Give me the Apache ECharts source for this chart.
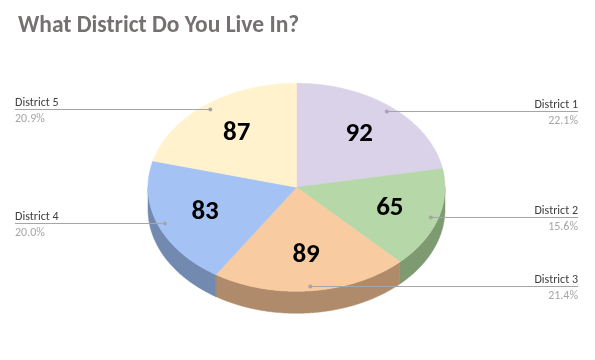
<!DOCTYPE html>
<html><head><meta charset="utf-8">
<script src="https://cdn.jsdelivr.net/npm/echarts@6/dist/echarts.min.js"></script>
<style>html,body{margin:0;padding:0;background:#fff}#c{width:595px;height:360px}</style>
</head><body><div id="c"></div>
<script>
// ---- data ----
const categories = ['District 1', 'District 2', 'District 3', 'District 4', 'District 5'];
const values = [92, 65, 89, 83, 87];
const titleText = 'What District Do You Live In?';

// ---- style ----
const topColors = ['#D9D2E9', '#B6D7A8', '#F8CBA0', '#A4C2F4', '#FFF2CC'];
const sideColors = ['#9890A6', '#7E9A70', '#AF8B6B', '#7289B0', '#B3AA8F'];
const FONT = 'Carlito, Lato, sans-serif';

const total = values.reduce((a, b) => a + b, 0);
const starts = [];
{ let acc = 0; values.forEach(v => { starts.push(acc); acc += v; }); }

const G = { cx: 296.5, cy: 187.3, rx: 148.5, ry: 104, depth: 22, labelR: 0.66, dotR: 0.95, rightX: 578, leftX: 15 };

function ang(frac) { return -Math.PI / 2 + frac * 2 * Math.PI; }
function pt(a, f, dy) { return [G.cx + G.rx * f * Math.cos(a), G.cy + G.ry * f * Math.sin(a) + (dy || 0)]; }
function arcPts(a1, a2, dy) {
  const n = Math.max(2, Math.ceil((a2 - a1) / (Math.PI / 360)));
  const out = [];
  for (let i = 0; i <= n; i++) out.push(pt(a1 + (a2 - a1) * i / n, 1, dy));
  return out;
}
function angles(idx, v) {
  return [ang(starts[idx] / total), ang((starts[idx] + v) / total)];
}

const seriesData = values.map((v, i) => ({ name: categories[i], value: [v] }));

const chart = echarts.init(document.getElementById('c'), null, { renderer: 'canvas' });
chart.setOption({
  animation: false,
  backgroundColor: '#fff',
  title: {
    text: titleText, left: 13, top: 9,
    textStyle: { fontSize: 23.5, fontWeight: 'bold', color: '#767171', fontFamily: FONT }
  },
  series: [
    {
      type: 'custom', coordinateSystem: 'none', z: 1, silent: true,
      data: seriesData,
      renderItem(params, api) {
        const i = params.dataIndex, v = api.value(0);
        const [a1, a2] = angles(i, v);
        const s = Math.max(a1, 0), e = Math.min(a2, Math.PI);
        if (s >= e) return { type: 'group', children: [] };
        const pts = arcPts(s, e, 0).concat(arcPts(s, e, G.depth).reverse());
        return { type: 'polygon', shape: { points: pts },
          style: { fill: sideColors[i], stroke: sideColors[i], lineWidth: 0.5 } };
      }
    },
    {
      type: 'custom', coordinateSystem: 'none', z: 2, silent: true,
      data: seriesData,
      renderItem(params, api) {
        const i = params.dataIndex, v = api.value(0);
        const [a1, a2] = angles(i, v);
        const pts = [[G.cx, G.cy]].concat(arcPts(a1, a2, 0));
        return { type: 'polygon', shape: { points: pts },
          style: { fill: topColors[i], stroke: topColors[i], lineWidth: 0.5 } };
      }
    },
    {
      type: 'custom', coordinateSystem: 'none', z: 3, silent: true,
      data: seriesData,
      renderItem(params, api) {
        const i = params.dataIndex, v = api.value(0);
        const [a1, a2] = angles(i, v);
        const mid = (a1 + a2) / 2;
        const lp = pt(mid, G.labelR);
        const dp = pt(mid, G.dotR);
        const right = Math.cos(mid) >= 0;
        const ly = Math.round(dp[1]) + 0.5;
        const ex = right ? G.rightX : G.leftX;
        const pct = (v / total * 100).toFixed(1) + '%';
        return { type: 'group', children: [
          { type: 'polyline', shape: { points: [[dp[0], ly], [ex, ly]] },
            style: { stroke: '#A6A6A6', lineWidth: 1, fill: null } },
          { type: 'circle', shape: { cx: dp[0], cy: ly, r: 2 }, style: { fill: '#A6A6A6' } },
          { type: 'text', x: lp[0], y: lp[1],
            style: { text: String(v), fill: '#000', fontSize: 27, fontWeight: 'bold', fontFamily: FONT,
              align: 'center', verticalAlign: 'middle' } },
          { type: 'text', x: ex, y: ly - 7,
            style: { text: categories[i], fill: '#404040', fontSize: 12, fontFamily: FONT,
              align: right ? 'right' : 'left', verticalAlign: 'middle' } },
          { type: 'text', x: ex, y: ly + 9,
            style: { text: pct, fill: '#A6A6A6', fontSize: 12, fontFamily: FONT,
              align: right ? 'right' : 'left', verticalAlign: 'middle' } }
        ] };
      }
    }
  ]
});
</script>
</body></html>
